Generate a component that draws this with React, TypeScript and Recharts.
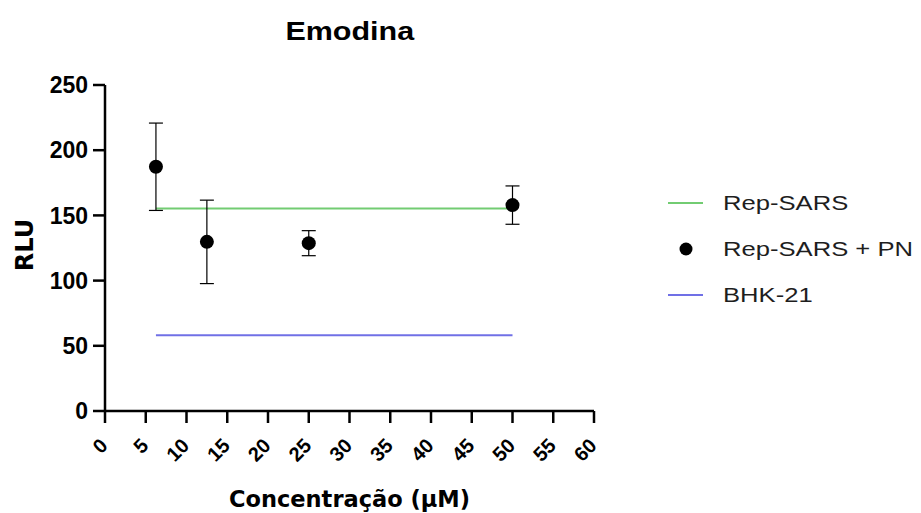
import React from 'react';
import {
  ComposedChart,
  Line,
  Scatter,
  ErrorBar,
  XAxis,
  YAxis,
  Legend,
  Label
} from 'recharts';

// concentração (µM) das amostras
const concentrations = [6.25, 12.5, 25, 50];
// Rep-SARS + PN: média e desvio (±)
const repSarsPn = [187.3, 129.7, 128.7, 157.9];
const repSarsPnErr = [33.5, 32, 9.6, 14.7];
// controles (linhas horizontais)
const repSarsLevel = [155.3, 155.3, 155.3, 155.3];
const bhk21Level = [58.1, 58.1, 58.1, 58.1];

const xTicks = [0, 5, 10, 15, 20, 25, 30, 35, 40, 45, 50, 55, 60];
const yTicks = [0, 50, 100, 150, 200, 250];

const GREEN = '#72cc72';
const BLUE = '#7070e6';

const legendItems = [
  { label: 'Rep-SARS', kind: 'line', color: GREEN },
  { label: 'Rep-SARS + PN', kind: 'dot', color: '#000' },
  { label: 'BHK-21', kind: 'line', color: BLUE }
];

const data = concentrations.map((c, i) => ({
  conc: c,
  pn: repSarsPn[i],
  pnErr: repSarsPnErr[i],
  repSars: repSarsLevel[i],
  bhk: bhk21Level[i]
}));

const ARIAL = '"Liberation Sans", Arial, sans-serif';
const DEJAVU = '"DejaVu Sans", sans-serif';
const LEGEND_W = 253;

function XTick({ x, y, payload }: any) {
  const tx = x - 1;
  const ty = y + 17;
  return (
    <text
      x={tx}
      y={ty}
      dy="0.35em"
      transform={`rotate(-45 ${tx} ${ty})`}
      textAnchor="end"
      fontFamily={ARIAL}
      fontWeight={700}
      fontSize={20}
      fill="#000"
    >
      {payload.value}
    </text>
  );
}

function LegendBox() {
  return (
    <div>
      {legendItems.map((it) => (
        <div
          key={it.label}
          style={{ display: 'flex', alignItems: 'center', height: 46 }}
        >
          <svg width={35} height={20} style={{ flex: 'none' }}>
            {it.kind === 'line' ? (
              <line x1={0} y1={10} x2={35} y2={10} stroke={it.color} strokeWidth={2} />
            ) : (
              <circle cx={18} cy={10} r={6.5} fill={it.color} />
            )}
          </svg>
          <span
            style={{
              marginLeft: 20,
              display: 'inline-block',
              fontFamily: ARIAL,
              fontSize: 20,
              color: '#1e1e1e',
              whiteSpace: 'nowrap',
              transform: 'scaleX(1.28)',
              transformOrigin: 'left center'
            }}
          >
            {it.label}
          </span>
        </div>
      ))}
    </div>
  );
}

export default function App() {
  return (
    <div style={{ position: 'absolute', left: 0, top: 0, width: 921, height: 513, background: '#fff' }}>
      <div
        style={{
          position: 'absolute',
          left: 0,
          top: 19,
          width: 699,
          textAlign: 'center',
          lineHeight: '25px'
        }}
      >
        <span
          style={{
            display: 'inline-block',
            fontFamily: ARIAL,
            fontWeight: 700,
            fontSize: 25,
            color: '#000',
            transform: 'scaleX(1.22)'
          }}
        >
          Emodina
        </span>
      </div>
      <ComposedChart
        width={921}
        height={513}
        data={data}
        margin={{ top: 85, right: 327 - LEGEND_W, bottom: 0, left: 0 }}
      >
        <XAxis
          dataKey="conc"
          type="number"
          domain={[0, 60]}
          ticks={xTicks}
          interval={0}
          height={102}
          stroke="#000"
          strokeWidth={2.5}
          tickSize={12}
          tickMargin={2}
          tick={<XTick />}
          tickLine={{ stroke: '#000', strokeWidth: 2.5 }}
        >
          <Label
            content={({ viewBox }: any) => (
              <text
                x={viewBox.x + viewBox.width / 2}
                y={507}
                textAnchor="middle"
                fontFamily={DEJAVU}
                fontWeight={700}
                fontSize={22.5}
                fill="#000"
              >
                Concentração (µM)
              </text>
            )}
          />
        </XAxis>
        <YAxis
          type="number"
          domain={[0, 250]}
          ticks={yTicks}
          interval={0}
          width={105}
          stroke="#000"
          strokeWidth={2.5}
          tickSize={12}
          tickMargin={5}
          tick={{ fill: '#000', fontFamily: ARIAL, fontWeight: 700, fontSize: 23 }}
          tickLine={{ stroke: '#000', strokeWidth: 2.5 }}
        >
          <Label
            content={({ viewBox }: any) => {
              const lx = 33;
              const ly = viewBox.y + viewBox.height / 2 - 3;
              return (
                <text
                  x={lx}
                  y={ly}
                  transform={`rotate(-90 ${lx} ${ly})`}
                  textAnchor="middle"
                  fontFamily={DEJAVU}
                  fontWeight={700}
                  fontSize={24}
                  fill="#000"
                >
                  RLU
                </text>
              );
            }}
          />
        </YAxis>
        <Legend
          verticalAlign="top"
          align="right"
          layout="vertical"
          width={LEGEND_W}
          wrapperStyle={{ left: 668, top: 180, width: LEGEND_W }}
          content={() => <LegendBox />}
        />
        <Line
          dataKey="repSars"
          stroke={GREEN}
          strokeWidth={2}
          dot={false}
          activeDot={false}
          isAnimationActive={false}
        />
        <Line
          dataKey="bhk"
          stroke={BLUE}
          strokeWidth={2}
          dot={false}
          activeDot={false}
          isAnimationActive={false}
        />
        <Scatter
          dataKey="pn"
          fill="#000"
          isAnimationActive={false}
          shape={(p: any) => <circle cx={p.cx} cy={p.cy} r={7} fill="#000" />}
        >
          <ErrorBar dataKey="pnErr" direction="y" width={7} stroke="#000" strokeWidth={1.2} />
        </Scatter>
      </ComposedChart>
    </div>
  );
}
